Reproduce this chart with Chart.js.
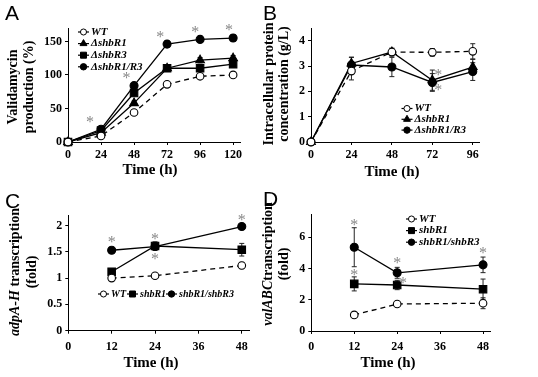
<!DOCTYPE html>
<html>
<head>
<meta charset="utf-8">
<script src="https://cdn.jsdelivr.net/npm/chart.js@4.4.1/dist/chart.umd.min.js"></script>
<style>
  html, body { margin: 0; padding: 0; background: #fff; }
  #wrap { position: relative; width: 538px; height: 377px; }
  #wrap canvas { position: absolute; left: 0; top: 0; }
</style>
</head>
<body>
<div id="wrap">
  <canvas id="chartA" width="538" height="377"></canvas>
  <canvas id="chartB" width="538" height="377"></canvas>
  <canvas id="chartC" width="538" height="377"></canvas>
  <canvas id="chartD" width="538" height="377"></canvas>
</div>
<script>
// A: validamycin production (%)
const timeA = [0, 24, 48, 72, 96, 120];
const wtA = [0, 9, 44, 86, 98, 100];
const r1A = [0, 14, 58, 110, 122, 125];
const r3A = [0, 17, 73, 110, 110, 116];
const r13A = [0, 19, 84, 146, 153, 155];
const wtAErr = [0, 2, 3, 3, 3, 3];
const r1AErr = [0, 2, 3, 3, 4, 4];
const r3AErr = [0, 2, 3, 3, 3, 3];
const r13AErr = [0, 2, 3, 5, 5, 5];
const starsA = [[16, 33], [42.5, 99], [67, 160], [92.5, 168], [117, 170]];

// B: intracellular protein (g/L)
const timeB = [0, 24, 48, 72, 96];
const wtB = [0, 2.8, 3.55, 3.54, 3.58];
const r1B = [0, 3.1, 3.55, 2.44, 2.96];
const r13B = [0, 3.04, 2.96, 2.35, 2.78];
const wtBErr = [0, 0.35, 0.15, 0.15, 0.3];
const r1BErr = [0, 0.25, 0.15, 0.4, 0.3];
const r13BErr = [0, 0.3, 0.38, 0.35, 0.35];
const starsB = [[75.5, 2.72], [75.5, 2.13]];

// C: adpA-H transcription (fold)
const timeC = [12, 24, 48];
const wtC = [1.0, 1.045, 1.24];
const r1C = [1.12, 1.61, 1.54];
const r13C = [1.53, 1.6, 1.98];
const wtCErr = [0.02, 0.02, 0.06];
const r1CErr = [0.05, 0.08, 0.12];
const r13CErr = [0.05, 0.05, 0.04];
const starsC = [[12, 1.73], [24, 1.79], [24, 1.4], [48, 2.14]];

// D: valABC transcription (fold)
const timeD = [12, 24, 48];
const wtD = [1.03, 1.73, 1.78];
const r1D = [3.02, 2.95, 2.68];
const r13D = [5.37, 3.73, 4.24];
const wtDErr = [0.1, 0.1, 0.35];
const r1DErr = [0.45, 0.3, 0.65];
const r13DErr = [1.25, 0.35, 0.5];
const starsD = [[12, 6.92], [12, 3.7], [24, 4.5], [25.6, 3.21], [48, 5.14]];

const SERIF = "'Liberation Serif', 'Times New Roman', serif";
const SANS = "'Liberation Sans', Arial, sans-serif";

const openCircle = { pointStyle: 'circle', pointRadius: 3.8, pointBackgroundColor: '#fff', borderDash: [5, 4] };
const triangle = { pointStyle: 'triangle', pointRadius: 5 };
const square = { pointStyle: 'rect', pointRadius: 5.3 };
const dot = { pointStyle: 'circle', pointRadius: 4 };

function series(label, t, v, err, style) {
  return Object.assign({
    label,
    data: t.map((x, i) => ({ x, y: v[i] })),
    errors: err,
    borderColor: '#000',
    borderWidth: 1.3,
    pointBorderColor: '#000',
    pointBackgroundColor: '#000',
    pointBorderWidth: 1.1,
    pointHoverRadius: 0,
    tension: 0,
    clip: false
  }, style);
}

function drawMarker(ctx, style, r, x, y) {
  ctx.beginPath();
  if (style === 'triangle') {
    ctx.moveTo(x, y - r);
    ctx.lineTo(x + r * 0.866, y + r * 0.5);
    ctx.lineTo(x - r * 0.866, y + r * 0.5);
    ctx.closePath();
  } else if (style === 'rect') {
    const s = r * Math.SQRT1_2;
    ctx.rect(x - s, y - s, 2 * s, 2 * s);
  } else {
    ctx.arc(x, y, r, 0, Math.PI * 2);
  }
  ctx.fill();
  ctx.stroke();
}

function drawRich(ctx, segs, cx, cy, size) {
  const font = it => (it ? 'italic ' : '') + 'bold ' + size + 'px ' + SERIF;
  let w = 0;
  segs.forEach(([t, it]) => { ctx.font = font(it); w += ctx.measureText(t).width; });
  let x = cx - w / 2;
  ctx.textAlign = 'left';
  ctx.textBaseline = 'middle';
  segs.forEach(([t, it]) => { ctx.font = font(it); ctx.fillText(t, x, cy); x += ctx.measureText(t).width; });
}

const decor = {
  id: 'decor',
  beforeDatasetsDraw(chart) {
    const ctx = chart.ctx, xs = chart.scales.x, ys = chart.scales.y;
    ctx.save();
    ctx.strokeStyle = '#222';
    ctx.lineWidth = 1;
    chart.data.datasets.forEach(ds => {
      ds.data.forEach((p, i) => {
        const e = ds.errors[i];
        if (!e) return;
        const x = xs.getPixelForValue(p.x);
        const y1 = ys.getPixelForValue(p.y + e), y2 = ys.getPixelForValue(p.y - e);
        ctx.beginPath();
        ctx.moveTo(x, y1); ctx.lineTo(x, y2);
        ctx.moveTo(x - 2.5, y1); ctx.lineTo(x + 2.5, y1);
        ctx.moveTo(x - 2.5, y2); ctx.lineTo(x + 2.5, y2);
        ctx.stroke();
      });
    });
    ctx.restore();
  },
  afterDraw(chart, args, o) {
    const ctx = chart.ctx, xs = chart.scales.x, ys = chart.scales.y;
    ctx.save();
    ctx.fillStyle = '#000';
    ctx.font = '21px ' + SANS;
    ctx.textAlign = 'left';
    ctx.textBaseline = 'alphabetic';
    ctx.fillText(o.letter[0], o.letter[1], o.letter[2]);

    ctx.font = 'bold 15px ' + SERIF;
    ctx.textAlign = 'center';
    ctx.textBaseline = 'middle';
    ctx.fillText('Time (h)', o.xTitle[0], o.xTitle[1]);

    o.yTitle.lines.forEach((segs, i) => {
      ctx.save();
      ctx.translate(o.yTitle.xs[i], o.yTitle.cy);
      ctx.rotate(-Math.PI / 2);
      drawRich(ctx, segs, 0, 0, 14);
      ctx.restore();
    });

    const lg = o.legend;
    chart.data.datasets.forEach((ds, i) => {
      const x0 = lg.xs ? lg.xs[i] : lg.x;
      const y0 = lg.xs ? lg.y : lg.y + i * lg.dy;
      ctx.strokeStyle = '#000';
      ctx.lineWidth = 1.2;
      ctx.beginPath(); ctx.moveTo(x0, y0); ctx.lineTo(x0 + 11, y0); ctx.stroke();
      ctx.fillStyle = ds.pointBackgroundColor;
      ctx.lineWidth = 1;
      drawMarker(ctx, ds.pointStyle, ds.pointRadius * 0.8, x0 + 5.5, y0);
      ctx.fillStyle = '#000';
      ctx.font = 'italic bold ' + lg.size + 'px ' + SERIF;
      ctx.textAlign = 'left';
      ctx.textBaseline = 'middle';
      ctx.fillText(ds.label, x0 + 13, y0);
    });

    ctx.fillStyle = '#888';
    ctx.font = '16px ' + SERIF;
    ctx.textAlign = 'center';
    ctx.textBaseline = 'middle';
    o.stars.forEach(([sx, sy]) => ctx.fillText('*', xs.getPixelForValue(sx), ys.getPixelForValue(sy) + 3));
    ctx.restore();
  }
};

function makeChart(id, area, xMax, xStep, yMax, yStep, padX, datasets, deco) {
  const tickFont = { family: SERIF, size: 12, weight: 'bold' };
  const axis = (max, step, pad) => ({
    type: 'linear', min: 0, max,
    border: { color: '#000', width: 1 },
    grid: { drawOnChartArea: false, color: '#000', tickLength: 3 },
    ticks: {
      stepSize: step, includeBounds: false, color: '#000', font: tickFont, padding: pad,
      maxRotation: 0, autoSkip: false,
      callback: v => String(Math.round(v * 100) / 100)
    }
  });
  const x = axis(xMax, xStep, padX);
  x.afterFit = s => { s.height = 20; };
  const y = axis(yMax, yStep, 3);
  y.afterFit = s => { s.width = 30; };
  return new Chart(document.getElementById(id), {
    type: 'line',
    data: { datasets },
    options: {
      responsive: false,
      animation: false,
      events: [],
      layout: { padding: { left: area[0] - 30, top: area[1], right: 538 - area[2], bottom: 377 - area[3] - 20 } },
      scales: { x, y },
      plugins: { legend: { display: false }, tooltip: { enabled: false }, decor: deco }
    },
    plugins: [decor]
  });
}

makeChart('chartA', [68, 28, 240, 142], 125, 24, 170, 50, 3, [
  series('WT', timeA, wtA, wtAErr, openCircle),
  series('\u0394shbR1', timeA, r1A, r1AErr, triangle),
  series('\u0394shbR3', timeA, r3A, r3AErr, square),
  series('\u0394shbR1/R3', timeA, r13A, r13AErr, dot)
], {
  letter: ['A', 5, 20],
  xTitle: [150, 170],
  yTitle: { lines: [[['Validamycin', false]], [['production (%)', false]]], xs: [13, 29], cy: 87 },
  legend: { x: 78, y: 32, dy: 11.6, size: 11 },
  stars: starsA
});

makeChart('chartB', [311, 28, 479.5, 142], 100, 24, 4.5, 1, 3, [
  series('WT', timeB, wtB, wtBErr, openCircle),
  series('\u0394shbR1', timeB, r1B, r1BErr, triangle),
  series('\u0394shbR1/R3', timeB, r13B, r13BErr, dot)
], {
  letter: ['B', 263, 20],
  xTitle: [392, 172],
  yTitle: { lines: [[['Intracellular protein', false]], [['concentration (g/L)', false]]], xs: [269, 284], cy: 84 },
  legend: { x: 401.5, y: 108.5, dy: 10.8, size: 11 },
  stars: starsB
});

makeChart('chartC', [68.3, 215, 249, 330.7], 50, 12, 2.2, 0.5, 6, [
  series('WT', timeC, wtC, wtCErr, openCircle),
  series('shbR1', timeC, r1C, r1CErr, square),
  series('shbR1/shbR3', timeC, r13C, r13CErr, dot)
], {
  letter: ['C', 5, 208],
  xTitle: [151, 363],
  yTitle: { lines: [[['adpA-H', true], [' transcription', false]], [['(fold)', false]]], xs: [15, 32], cy: 272 },
  legend: { xs: [98, 127, 166], y: 294, size: 10 },
  stars: starsC
});

makeChart('chartD', [311.3, 214, 490.2, 331], 50, 12, 7.5, 2, 6, [
  series('WT', timeD, wtD, wtDErr, openCircle),
  series('shbR1', timeD, r1D, r1DErr, square),
  series('shbR1/shbR3', timeD, r13D, r13DErr, dot)
], {
  letter: ['D', 263, 206],
  xTitle: [388, 363],
  yTitle: { lines: [[['valABC', true], ['transcription', false]], [['(fold)', false]]], xs: [268, 284], cy: 264 },
  legend: { x: 406, y: 219, dy: 11.6, size: 11 },
  stars: starsD
});
</script>
</body>
</html>
